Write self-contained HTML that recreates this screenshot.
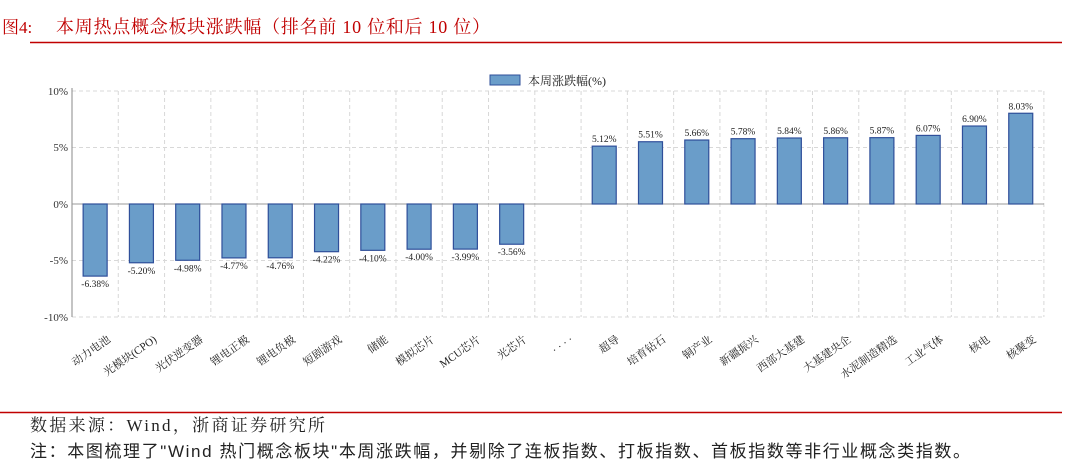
<!DOCTYPE html>
<html><head><meta charset="utf-8"><style>
body{margin:0;background:#fff;width:1080px;height:469px;overflow:hidden;font-family:"Liberation Serif","Noto Serif CJK SC",serif}
</style></head><body>
<svg width="1080" height="469" xmlns="http://www.w3.org/2000/svg" font-family="Liberation Serif, Noto Serif CJK SC, serif">
<text x="2" y="33" font-size="17" fill="#c00000">图4:</text>
<text x="56" y="33" font-size="18" fill="#c00000" textLength="434" lengthAdjust="spacing">本周热点概念板块涨跌幅（排名前 10 位和后 10 位）</text>
<line x1="30" y1="42.5" x2="1062" y2="42.5" stroke="#c00000" stroke-width="1.5"/>
<g stroke="#d8d8d8" stroke-dasharray="4,3" stroke-width="1">
<line x1="72" y1="91" x2="1044" y2="91"/><line x1="72" y1="147.5" x2="1044" y2="147.5"/>
<line x1="72" y1="260.5" x2="1044" y2="260.5"/><line x1="72" y1="317" x2="1044" y2="317"/>
</g>
<g id="vg" stroke="#d8d8d8" stroke-dasharray="4,3"></g>
<line x1="72" y1="88" x2="72" y2="317" stroke="#888"/>
<line x1="72" y1="204" x2="1044" y2="204" stroke="#999"/>
<g font-size="11" text-anchor="end" fill="#333">
<text x="68" y="95">10%</text><text x="68" y="151">5%</text><text x="68" y="208">0%</text>
<text x="68" y="264">-5%</text><text x="68" y="321">-10%</text></g>
<rect x="490" y="75" width="30" height="10" fill="#6a9dc9" stroke="#2f4f9a"/>
<text x="528" y="85" font-size="12" fill="#222">本周涨跌幅(%)</text>
<g id="bars"></g>
<line x1="0" y1="412.5" x2="1062" y2="412.5" stroke="#c00000" stroke-width="1.5"/>
<text x="30" y="431" font-size="17" fill="#222" textLength="295" lengthAdjust="spacing">数据来源：Wind，浙商证券研究所</text>
<text x="30" y="457" font-size="17" fill="#222" font-family="Liberation Sans, Noto Sans CJK SC, sans-serif" textLength="940" lengthAdjust="spacing">注：本图梳理了"Wind 热门概念板块"本周涨跌幅，并剔除了连板指数、打板指数、首板指数等非行业概念类指数。</text>
</svg>
<script>
var names=["动力电池","光模块(CPO)","光伏逆变器","锂电正极","锂电负极","短剧游戏","储能","模拟芯片","MCU芯片","光芯片","· · · ·","超导","培育钻石","铜产业","新疆振兴","西部大基建","大基建央企","水泥制造精选","工业气体","核电","核聚变"];
var vals=[-6.38,-5.20,-4.98,-4.77,-4.76,-4.22,-4.10,-4.00,-3.99,-3.56,null,5.12,5.51,5.66,5.78,5.84,5.86,5.87,6.07,6.90,8.03];
var ns="http://www.w3.org/2000/svg",g=document.getElementById("bars"),vg=document.getElementById("vg");
function el(t,a,p){var e=document.createElementNS(ns,t);for(var k in a)e.setAttribute(k,a[k]);p.appendChild(e);return e;}
var w=46.28,s=11.3;
for(var k=1;k<=21;k++){var x=72+k*w;el("line",{x1:x,y1:91,x2:x,y2:317},vg);}
for(var i=0;i<21;i++){var c=72+(i+0.5)*w,v=vals[i];
 if(v!==null){var h=Math.abs(v)*s,y=v>0?204-h:204;
  el("rect",{x:c-12,y:y,width:24,height:h,fill:"#6a9dc9",stroke:"#2f4f9a","stroke-width":1.2},g);
  var t=el("text",{x:c,y:v>0?y-4:y+h+11,"font-size":9.5,"text-anchor":"middle",fill:"#222"},g);t.textContent=v.toFixed(2)+"%";}
 var l=el("text",{x:c+16,y:341,"font-size":11,"text-anchor":"end",fill:"#222",transform:"rotate(-35 "+(c+16)+" 341)"},g);l.textContent=names[i];}
</script>
</body></html>
